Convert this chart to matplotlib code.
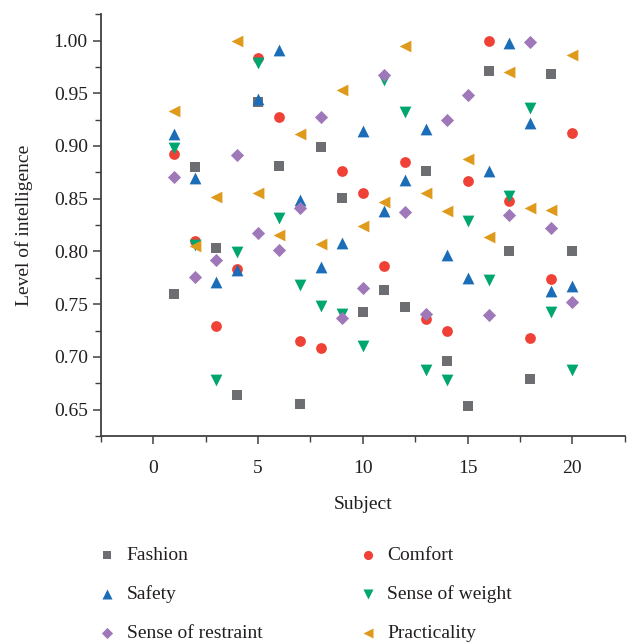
import numpy as np
import matplotlib
matplotlib.use("Agg")
import matplotlib.pyplot as plt
from matplotlib.ticker import MultipleLocator

plt.rcParams['font.family'] = ['Liberation Serif', 'DejaVu Serif']

subjects = list(range(1, 21))

fashion = [0.760, 0.880, 0.803, 0.664, 0.942, 0.881, 0.655, 0.899, 0.851, 0.743,
           0.763, 0.747, 0.876, 0.696, 0.653, 0.971, 0.800, 0.679, 0.968, 0.800]
comfort = [0.892, 0.810, 0.729, 0.783, 0.983, 0.927, 0.715, 0.708, 0.876, 0.855,
           0.786, 0.885, 0.736, 0.725, 0.867, 1.000, 0.848, 0.718, 0.774, 0.912]
safety = [0.911, 0.870, 0.771, 0.782, 0.945, 0.991, 0.849, 0.785, 0.808, 0.914,
          0.838, 0.868, 0.916, 0.797, 0.775, 0.876, 0.998, 0.922, 0.762, 0.767]
weight = [0.898, 0.806, 0.678, 0.799, 0.979, 0.832, 0.768, 0.748, 0.741, 0.710,
          0.963, 0.932, 0.688, 0.678, 0.829, 0.773, 0.853, 0.936, 0.743, 0.688]
restraint = [0.871, 0.776, 0.792, 0.891, 0.817, 0.801, 0.841, 0.927, 0.737, 0.765,
             0.967, 0.837, 0.741, 0.925, 0.948, 0.740, 0.835, 0.999, 0.822, 0.752]
practicality = [0.933, 0.805, 0.852, 1.000, 0.855, 0.816, 0.911, 0.807, 0.953, 0.824,
                0.847, 0.995, 0.855, 0.838, 0.888, 0.814, 0.970, 0.841, 0.839, 0.986]

fig = plt.figure(figsize=(6.31, 6.43), dpi=100)
ax = fig.add_axes([0.160, 0.322, 0.830, 0.656])

# порядок отрисовки как в оригинале
series = [
    ("Fashion", fashion, "s", "#6d6e71", 45),
    ("Comfort", comfort, "o", "#ef4136", 60),
    ("Safety", safety, "^", "#1a6db6", 72),
    ("Sense of weight", weight, "v", "#00a66f", 72),
    ("Sense of restraint", restraint, "D", "#9e78b8", 45),
    ("Practicality", practicality, "<", "#df9a1c", 72),
]
handles = {}
for name, vals, mk, col, s in series:
    handles[name] = ax.scatter(subjects, vals, marker=mk, color=col, s=s,
                               linewidths=0, label=name)

ax.set_xlim(-2.5, 22.5)
ax.set_ylim(0.625, 1.025)
ax.xaxis.set_major_locator(MultipleLocator(5))
ax.xaxis.set_minor_locator(MultipleLocator(2.5))
ax.yaxis.set_major_locator(MultipleLocator(0.05))
ax.yaxis.set_minor_locator(MultipleLocator(0.025))
ax.yaxis.set_major_formatter(plt.FormatStrFormatter('%.2f'))

for side in ['top', 'right']:
    ax.spines[side].set_visible(False)
for side in ['left', 'bottom']:
    ax.spines[side].set_color('#404040')
    ax.spines[side].set_linewidth(1.3)
ax.tick_params(which='major', direction='out', length=6, width=1.1,
               color='#404040', labelsize=14, labelcolor='#231f20')
ax.tick_params(which='minor', direction='out', length=4, width=1.0, color='#404040')
ax.tick_params(axis='x', pad=11)

ax.set_xlabel("Subject", fontsize=14, color='#231f20', labelpad=14)
ax.set_ylabel("Level of intelligence", fontsize=14, color='#231f20', labelpad=15)

order = ["Fashion", "Safety", "Sense of restraint", "Comfort", "Sense of weight", "Practicality"]
fig.legend([handles[n] for n in order], order, loc='upper left',
           bbox_to_anchor=(0.127, 0.178), ncol=2, frameon=False,
           fontsize=14, columnspacing=4.9, handlelength=1.0, handletextpad=0.5,
           labelspacing=1.1, scatterpoints=1, markerscale=0.85,
           labelcolor='#231f20')

fig.savefig("out.png", dpi=100)
